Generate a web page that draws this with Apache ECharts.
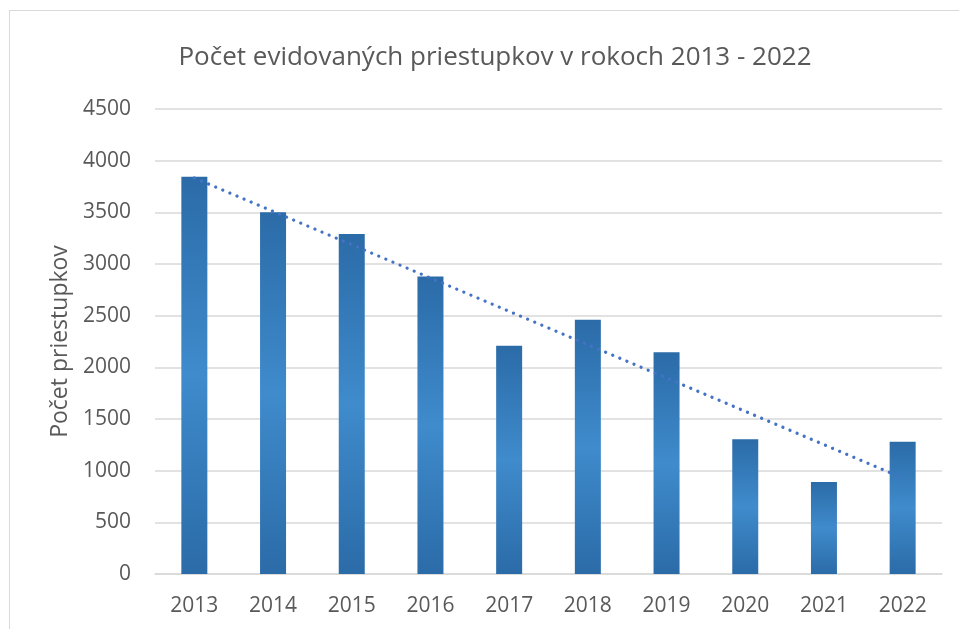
<!DOCTYPE html>
<html>
<head>
<meta charset="utf-8">
<script src="https://cdn.jsdelivr.net/npm/echarts@6/dist/echarts.min.js"></script>
<style>
  html, body { margin: 0; padding: 0; background: #fff; }
  #frame { position: absolute; left: 9px; top: 10px; width: 960px; height: 630px; border: 1px solid #d9d9d9; box-sizing: border-box; }
  #chart { position: absolute; left: 0; top: 0; width: 959px; height: 629px; }
</style>
</head>
<body>
<div id="frame"></div>
<div id="chart"></div>
<script>
// Roky a počty priestupkov (odčítané z grafu)
const years = ['2013', '2014', '2015', '2016', '2017', '2018', '2019', '2020', '2021', '2022'];
const counts = [3845, 3500, 3290, 2880, 2210, 2460, 2145, 1305, 890, 1280];
// Lineárny trend - len krajné body, ako v grafe
const trend = [3832, null, null, null, null, null, null, null, null, 929];
const yTicks = [0, 500, 1000, 1500, 2000, 2500, 3000, 3500, 4000, 4500];

const textColor = '#595959';
const font = 'Open Sans, Noto Sans, sans-serif';

const chart = echarts.init(document.getElementById('chart'));

const option = {
    animation: false,
    title: {
        text: 'Počet evidovaných priestupkov v rokoch 2013 - 2022',
        left: 490,
        textAlign: 'center',
        top: 40,
        textStyle: { fontFamily: font, fontSize: 26, fontWeight: 'normal', color: textColor }
    },
    grid: { left: 155, right: 17, top: 109, bottom: 55 },
    xAxis: {
        type: 'category',
        data: years,
        axisTick: { show: false },
        axisLine: { lineStyle: { color: '#d9d9d9', width: 1.5 } },
        axisLabel: { color: textColor, fontFamily: font, fontSize: 21, margin: 22 }
    },
    yAxis: {
        type: 'value',
        min: yTicks[0],
        max: yTicks[yTicks.length - 1],
        interval: 500,
        name: 'Počet priestupkov',
        nameLocation: 'middle',
        nameGap: 80,
        nameTextStyle: { color: textColor, fontFamily: font, fontSize: 23 },
        axisLine: { show: false },
        axisTick: { show: false },
        axisLabel: { color: textColor, fontFamily: font, fontSize: 21, margin: 24, formatter: v => String(v) },
        splitLine: { lineStyle: { color: '#d9d9d9', width: 1.5 } }
    },
    series: [
        {
            name: 'Počet',
            type: 'bar',
            data: counts,
            barWidth: 26,
            itemStyle: {
                color: new echarts.graphic.LinearGradient(0, 0, 0, 1, [
                    { offset: 0, color: '#2b6ba8' },
                    { offset: 0.5, color: '#3f8bcc' },
                    { offset: 1, color: '#2b6ba8' }
                ])
            }
        },
        {
            name: 'Trend',
            type: 'line',
            data: trend,
            connectNulls: true,
            showSymbol: false,
            symbol: 'none',
            z: 5,
            lineStyle: { color: '#4472c4', width: 3.2, type: [0.1, 7.6], cap: 'round' }
        }
    ]
};

chart.setOption(option);
</script>
</body>
</html>
